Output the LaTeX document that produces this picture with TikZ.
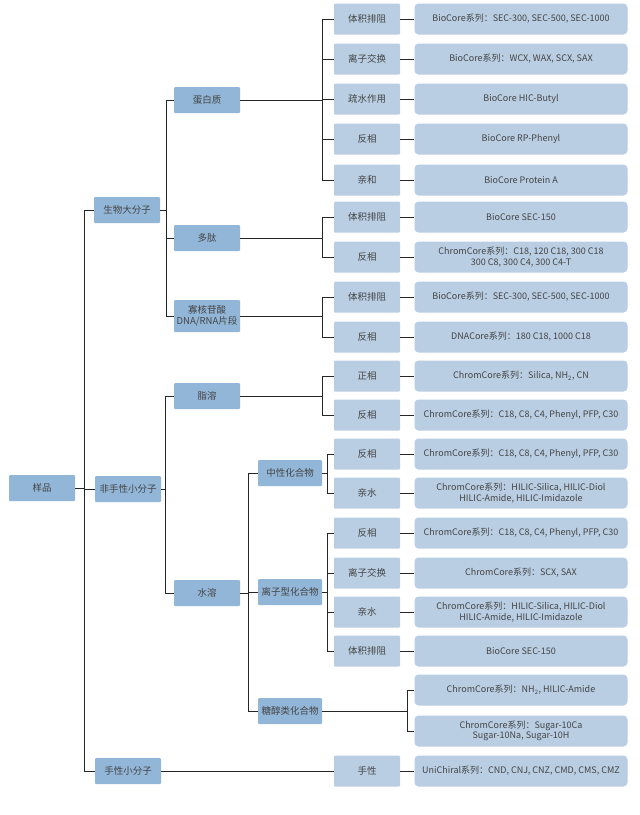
\documentclass[tikz,border=0pt]{standalone}
\usepackage{fontspec}
\setmainfont{Noto Sans CJK SC}
\usepackage{tikz}
\definecolor{boxdark}{HTML}{92B6D8}
\definecolor{boxlight}{HTML}{B9CEE3}
\definecolor{txt}{HTML}{444444}
\tikzset{
  lv/.style={fill=boxdark, text=txt, minimum width=66pt, minimum height=26pt, inner sep=1pt, align=center, font=\fontsize{9.5}{11}\selectfont, rounded corners=1pt},
  md/.style={lv, fill=boxlight, minimum height=31pt},
  leaf/.style={fill=boxlight, text=txt, minimum width=213pt, minimum height=31pt, inner sep=1pt, align=center, font=\fontsize{9}{10.5}\selectfont, rounded corners=4pt},
  link/.style={draw=black!85, line width=0.9pt}
}
\begin{document}
\begin{tikzpicture}[x=1pt,y=-1pt]
    \useasboundingbox[fill=white] (0,0) rectangle (640,815);
    % Levels
    \node[lv] (root) at (42,488) {样品};
    \node[lv] (bio) at (127,210) {生物大分子};
    \node[lv] (ach) at (128,489) {非手性小分子};
    \node[lv] (chi) at (128,771) {手性小分子};
    \node[lv] (prot) at (207,100) {蛋白质};
    \node[lv] (pep) at (207,238) {多肽};
    \node[lv, minimum height=32pt] (oli) at (207,316) {寡核苷酸\\DNA/RNA片段};
    \node[lv] (lip) at (207,396) {脂溶};
    \node[lv] (wat) at (207,593) {水溶};
    \node[lv, minimum width=64pt] (neu) at (290,473) {中性化合物};
    \node[lv, minimum width=64pt] (ion) at (290,592) {离子型化合物};
    \node[lv, minimum width=64pt] (sug) at (290,711) {糖醇类化合物};

    % Methods and columns
    \foreach \n/\y/\m/\t in {
        p1/19/体积排阻/{BioCore系列：SEC-300, SEC-500, SEC-1000},
        p2/59/离子交换/{BioCore系列：WCX, WAX, SCX, SAX},
        p3/99/疏水作用/{BioCore HIC-Butyl},
        p4/139/反相/{BioCore RP-Phenyl},
        p5/180/亲和/{BioCore Protein A},
        d1/217/体积排阻/{BioCore SEC-150},
        d2/257/反相/{ChromCore系列：C18, 120 C18, 300 C18\\300 C8, 300 C4, 300 C4-T},
        o1/297/体积排阻/{BioCore系列：SEC-300, SEC-500, SEC-1000},
        o2/337/反相/{DNACore系列：180 C18, 1000 C18},
        l1/376/正相/{ChromCore系列：Silica, NH\textsubscript{2}, CN},
        l2/415/反相/{ChromCore系列：C18, C8, C4, Phenyl, PFP, C30},
        n1/454/反相/{ChromCore系列：C18, C8, C4, Phenyl, PFP, C30},
        n2/493/亲水/{ChromCore系列：HILIC-Silica, HILIC-Diol\\HILIC-Amide, HILIC-Imidazole},
        i1/533/反相/{ChromCore系列：C18, C8, C4, Phenyl, PFP, C30},
        i2/573/离子交换/{ChromCore系列：SCX, SAX},
        i3/612/亲水/{ChromCore系列：HILIC-Silica, HILIC-Diol\\HILIC-Amide, HILIC-Imidazole},
        i4/651/体积排阻/{BioCore SEC-150},
        c1/771/手性/{UniChiral系列：CND, CNJ, CNZ, CMD, CMS, CMZ}}{
        \node[md] (m\n) at (367,\y) {\m};
        \node[leaf] (f\n) at (521,\y) {\t};
        \draw[link] (m\n.east) -- (f\n.west);
    }
    \node[leaf] (fs1) at (521,690) {ChromCore系列：NH\textsubscript{2}, HILIC-Amide};
    \node[leaf] (fs2) at (521,731) {ChromCore系列：Sugar-10Ca\\Sugar-10Na, Sugar-10H};

    % Connectors
    \foreach \c in {bio,ach,chi} \draw[link] (root.east) -- ++(9,0) |- (\c.west);
    \foreach \c in {prot,pep,oli} \draw[link] (bio.east) -- ++(6,0) |- (\c.west);
    \foreach \c in {lip,wat} \draw[link] (ach.east) -- ++(4,0) |- (\c.west);
    \foreach \c in {neu,ion,sug} \draw[link] (wat.east) -- ++(8,0) |- (\c.west);
    \foreach \c in {p1,p2,p3,p4,p5} \draw[link] (prot.east) -- ++(82,0) |- (m\c.west);
    \foreach \c in {d1,d2} \draw[link] (pep.east) -- ++(82,0) |- (m\c.west);
    \foreach \c in {o1,o2} \draw[link] (oli.east) -- ++(82,0) |- (m\c.west);
    \foreach \c in {l1,l2} \draw[link] (lip.east) -- ++(82,0) |- (m\c.west);
    \foreach \c in {n1,n2} \draw[link] (neu.east) -- ++(5,0) |- (m\c.west);
    \foreach \c in {i1,i2,i3,i4} \draw[link] (ion.east) -- ++(5,0) |- (m\c.west);
    \foreach \c in {fs1,fs2} \draw[link] (sug.east) -- ++(85,0) |- (\c.west);
    \draw[link] (chi.east) -- (mc1.west);
\end{tikzpicture}
\end{document}
